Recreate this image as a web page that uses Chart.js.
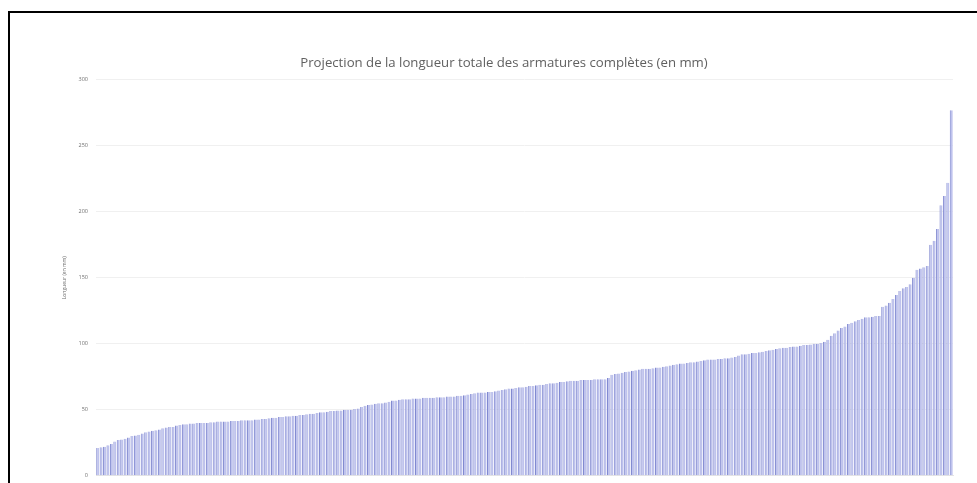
<!DOCTYPE html>
<html lang="fr">
<head>
<meta charset="utf-8">
<title>Projection de la longueur totale des armatures complètes</title>
<script src="https://cdn.jsdelivr.net/npm/chart.js@4.4.1/dist/chart.umd.min.js"></script>
<style>
  html, body { margin: 0; padding: 0; background: #fff; overflow: hidden; }
  #wrap { position: relative; width: 977px; height: 483px; overflow: hidden; }
  #frame {
    position: absolute; left: 8px; top: 11px; right: -4px; bottom: -4px;
    border-top: 2px solid #000; border-left: 2px solid #000;
    pointer-events: none;
  }
  canvas { position: absolute; left: 0; top: 0; }
</style>
</head>
<body>
<div id="wrap">
  <canvas id="chart" width="977" height="487"></canvas>
  <div id="frame"></div>
</div>
<script>
const chartTitle = "Projection de la longueur totale des armatures complètes (en mm)";
const axisTitle = "Longueur (en mm)";
const yTicks = [0, 50, 100, 150, 200, 250, 300];

// longueurs triées, une barre par armature
const values = [
  21, 21.5, 22, 23, 24, 26, 27, 27.5, 28, 29,
  30, 30.5, 31, 32, 33, 33.5, 34, 34.5, 35, 36,
  36.5, 37, 37, 38, 38.5, 39, 39, 39.5, 39.5, 40,
  40, 40, 40, 40.5, 40.5, 41, 41, 41, 41, 41.5,
  41.5, 41.5, 42, 42, 42, 42, 42.5, 42.5, 43, 43,
  43.5, 44, 44, 44.5, 44.5, 45, 45, 45.5, 45.5, 46,
  46, 46.5, 47, 47, 47.5, 48, 48, 48.5, 49, 49,
  49.5, 49.5, 50, 50, 50, 50.5, 51, 52, 53, 53.5,
  54, 54.5, 55, 55, 55.5, 56, 57, 57, 57.5, 58,
  58, 58, 58.5, 58.5, 58.5, 59, 59, 59, 59, 59.5,
  59.5, 59.5, 60, 60, 60, 60.5, 60.5, 61, 61.5, 62,
  62.5, 63, 63, 63, 63.5, 63.5, 64, 64.5, 65, 65.5,
  66, 66, 66.5, 67, 67, 67.5, 68, 68, 68.5, 69,
  69, 69.5, 70, 70, 70.5, 71, 71, 71.5, 72, 72,
  72, 72.5, 72.5, 72.5, 72.5, 73, 73, 73, 73, 74,
  76.5, 77, 77.5, 78, 78.5, 79, 79.5, 80, 80.5, 81,
  81, 81, 81.5, 82, 82, 82.5, 83, 83.5, 84, 84.5,
  85, 85, 85.5, 86, 86, 86.5, 87, 87.5, 88, 88,
  88, 88.5, 88.5, 89, 89, 89.5, 90, 91, 92, 92,
  92.5, 93, 93, 93.5, 94, 94.5, 95, 95.5, 96, 96.5,
  97, 97, 97.5, 98, 98, 98.5, 99, 99, 99.5, 100,
  100, 100.5, 101.5, 103, 106, 108, 110, 112, 113, 115,
  116, 117, 118, 119, 120, 120, 120.5, 121, 121, 128,
  129, 131, 134, 137, 140, 142, 143, 145, 150, 156,
  157, 158, 159, 175, 178, 187, 205, 212, 222, 277,
];

const categories = values.map((_, i) => String(i + 1));

function makeChart(canvas) {
  return new Chart(canvas, {
    type: "bar",
    data: {
      labels: categories,
      datasets: [
        {
          label: axisTitle,
          data: values,
          backgroundColor: "#bfc3ed",
          borderColor: "#8189d0",
          borderWidth: { left: 1, right: 0, top: 0, bottom: 0 },
          borderSkipped: false,
          barPercentage: 0.88,
          categoryPercentage: 1,
        },
      ],
    },
    options: {
      responsive: false,
      animation: false,
      layout: { padding: { left: 55, right: 24, top: 55, bottom: 0 } },
      plugins: {
        legend: { display: false },
        tooltip: { enabled: false },
        title: {
          display: true,
          text: chartTitle,
          color: "#606060",
          font: { family: "Open Sans", size: 13.2, weight: "normal" },
          padding: { top: 0, bottom: 9 },
        },
      },
      scales: {
        x: {
          ticks: { display: false, padding: 0 },
          grid: { display: false, drawTicks: false },
          border: { color: "#e4e4e4" },
        },
        y: {
          min: 0,
          max: 300,
          afterFit: (s) => { s.width = 41; },
          afterBuildTicks: (s) => { s.ticks = yTicks.map((v) => ({ value: v })); },
          ticks: {
            color: "#6e6e6e",
            font: { family: "Open Sans", size: 5.5 },
            padding: 8,
          },
          grid: { color: "#f0f0f0", drawTicks: false },
          border: { display: false },
          title: {
            display: true,
            text: axisTitle,
            color: "#6e6e6e",
            font: { family: "Open Sans", size: 5 },
            padding: { top: 7, bottom: 0 },
          },
        },
      },
    },
  });
}

window.addEventListener("load", () => makeChart(document.getElementById("chart")));
</script>
</body>
</html>
